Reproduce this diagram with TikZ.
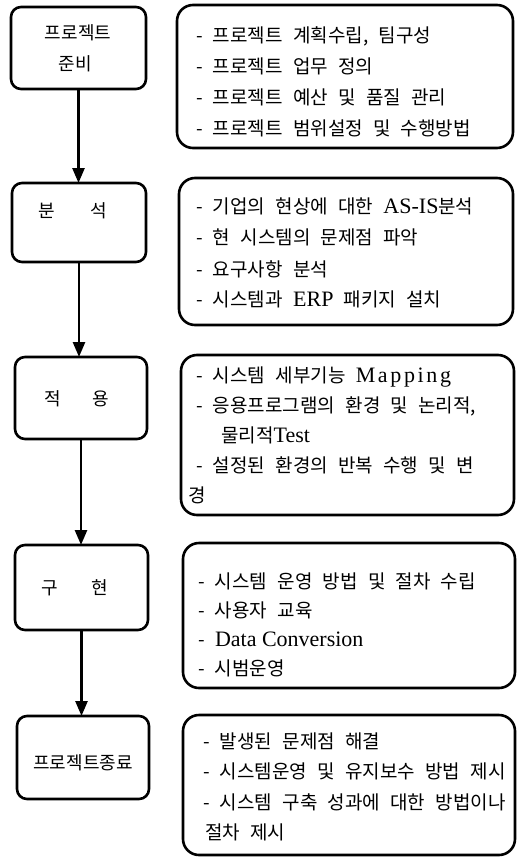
\documentclass[tikz,border=0pt]{standalone}
\usepackage{fontspec}
\usetikzlibrary{arrows.meta}
\newfontfamily\krfont[WordSpace=2.4]{Noto Sans CJK KR}
\newfontfamily\latfont{Liberation Serif}
\newcommand\krt[1]{{\krfont\fontsize{19pt}{22pt}\selectfont #1}}
\newcommand\krl[1]{{\krfont\fontsize{18pt}{22pt}\selectfont #1}}
\newcommand\ltn[1]{{\latfont\fontsize{22pt}{26pt}\selectfont #1}}
\tikzset{
  lbox/.style={draw, line width=2.6pt, rounded corners=10pt, inner sep=0pt, outer sep=0pt},
  rbox/.style={draw, line width=2.6pt, rounded corners=16pt, inner sep=0pt, outer sep=0pt},
  txt/.style={anchor=base west, inner sep=0pt},
  ltxt/.style={anchor=base, inner sep=0pt},
  flow/.style={line width=2.6pt, -{Triangle[length=15pt,width=12pt]}}
}
\begin{document}
\begin{tikzpicture}[x=1pt,y=-1pt]
\useasboundingbox (0,0) rectangle (519,857);
\fill[white] (0,0) rectangle (519,857);
% left boxes
\node[lbox, minimum width=135pt, minimum height=82pt] (L1) at (78.5,48) {};
\node[lbox, minimum width=134pt, minimum height=79pt] (L2) at (79,222.5) {};
\node[lbox, minimum width=132pt, minimum height=82pt] (L3) at (81,398) {};
\node[lbox, minimum width=133pt, minimum height=85pt] (L4) at (81.5,587.5) {};
\node[lbox, minimum width=132pt, minimum height=83pt] (L5) at (83,757.5) {};
% right boxes
\node[rbox, minimum width=336pt, minimum height=143pt] (R1) at (345,76.5) {};
\node[rbox, minimum width=334pt, minimum height=147pt] (R2) at (346,251.5) {};
\node[rbox, minimum width=333pt, minimum height=160pt] (R3) at (347.5,435) {};
\node[rbox, minimum width=332pt, minimum height=145pt] (R4) at (349,615.5) {};
\node[rbox, minimum width=332pt, minimum height=140pt] (R5) at (349,785) {};
% left texts
\node[ltxt] (T1a) at (78,39) {\krl{프로젝트}};
\node[ltxt] (T1b) at (75,70) {\krl{준비}};
\node[ltxt] (T2) at (73,217) {\krl{분\hspace{35pt}석}};
\node[ltxt] (T3) at (77,405) {\krl{적\hspace{31pt}용}};
\node[ltxt] (T4) at (75,594) {\krl{구\hspace{33pt}현}};
\node[ltxt] (T5) at (83,769) {\krl{프로젝트종료}};
% arrows
\draw[flow] (L1.south) -- (L1.south |- L2.north);
\draw[flow] (L2.south) -- (L2.south |- L3.north);
\draw[flow] (L3.south) -- (L3.south |- L4.north);
\draw[flow] (L4.south) -- (L4.south |- L5.north);
% right texts
\node[txt] (a1) at (196,42) {\krt{- 프로젝트 계획수립, 팀구성}};
\node[txt] (a2) at (196,73.5) {\krt{- 프로젝트 업무 정의}};
\node[txt] (a3) at (196,104.5) {\krt{- 프로젝트 예산 및 품질 관리}};
\node[txt] (a4) at (196,135) {\krt{- 프로젝트 범위설정 및 수행방법}};
\node[txt] (b1) at (196,213.5) {\krt{- 기업의 현상에 대한 \ltn{AS-IS}분석}};
\node[txt] (b2) at (196,244.5) {\krt{- 현 시스템의 문제점 파악}};
\node[txt] (b3) at (196,276.5) {\krt{- 요구사항 분석}};
\node[txt] (b4) at (196,306.5) {\krt{- 시스템과 \ltn{ERP} 패키지 설치}};
\node[txt] (c1) at (196,382.5) {\krt{- 시스템 세부기능 \ltn{\addfontfeature{LetterSpace=12}Mapping}}};
\node[txt] (c2) at (196,412.5) {\krt{- 응용프로그램의 환경 및 논리적,}};
\node[txt] (c3) at (221,442.5) {\krt{물리적\ltn{Test}}};
\node[txt] (c4) at (196,472.5) {\krt{- 설정된 환경의 반복 수행 및 변}};
\node[txt] (c5) at (188,502.5) {\krt{경}};
\node[txt] (d1) at (198,588.5) {\krt{- 시스템 운영 방법 및 절차 수립}};
\node[txt] (d2) at (198,617.5) {\krt{- 사용자 교육}};
\node[txt] (d3) at (198,646.5) {\krt{- \ltn{Data Conversion}}};
\node[txt] (d4) at (198,675.5) {\krt{- 시범운영}};
\node[txt] (e1) at (203,748.5) {\krt{- 발생된 문제점 해결}};
\node[txt] (e2) at (203,778.5) {\krt{- 시스템운영 및 유지보수 방법 제시}};
\node[txt] (e3) at (203,809.5) {\krt{- 시스템 구축 성과에 대한 방법이나}};
\node[txt] (e4) at (205,839.5) {\krt{절차 제시}};
\end{tikzpicture}
\end{document}
